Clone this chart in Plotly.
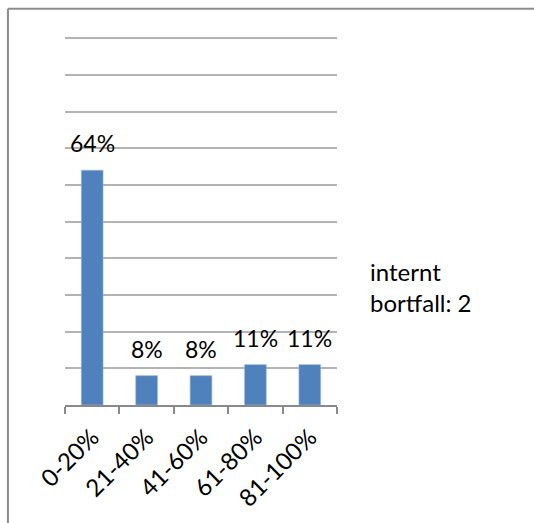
import plotly.graph_objects as go

# Share of respondents per interval
categories = ["0-20%", "21-40%", "41-60%", "61-80%", "81-100%"]
shares = [64, 8, 8, 11, 11]
side_note = "internt<br>bortfall: 2"

W, H = 534, 523
Y_MAX = 100.6
# plot area in pixels
PL, PR, PB = 65, 336.7, 405
UNIT = 3.667  # pixels per percentage point
PT = PB - Y_MAX * UNIT
PW, PH = PR - PL, PB - PT

def px_x(p):
    return (p - PL) / PW

def px_y(p):
    return (PB - p) / PH

FONT = "Lato"
AXIS_GREY = "#898989"
FRAME_GREY = "#8C8C8C"

fig = go.Figure(
    go.Bar(
        x=categories,
        y=shares,
        marker=dict(color="#4F81BD", line=dict(color="#9DB9DD", width=0.6)),
        hoverinfo="skip",
    )
)

for c, v in zip(categories, shares):
    fig.add_annotation(
        x=c, y=v, text=f"{v}%", showarrow=False,
        yanchor="middle", xanchor="center", yshift=27,
        font=dict(family=FONT, size=23, color="black"),
    )

fig.add_annotation(
    xref="paper", yref="paper", x=px_x(368), y=px_y(287),
    text=side_note, showarrow=False, align="left",
    xanchor="left", yanchor="middle",
    font=dict(family=FONT, size=24, color="black"),
)

# outer chart frame: only top and left edges fall inside the page
for x0, y0, x1, y1 in [(8, 8.8, W + 5, 8.8), (8, 8.8, 8, H + 5)]:
    fig.add_shape(
        type="line", xref="paper", yref="paper",
        x0=px_x(x0), y0=px_y(y0), x1=px_x(x1), y1=px_y(y1),
        line=dict(color=FRAME_GREY, width=2), layer="below",
    )

fig.update_layout(
    width=W, height=H,
    margin=dict(l=PL, r=W - PR, t=PT, b=H - PB, pad=0),
    paper_bgcolor="white", plot_bgcolor="white",
    bargap=0.6, showlegend=False,
    font=dict(family=FONT, color="black"),
)

fig.update_yaxes(
    range=[0, Y_MAX], tick0=0, dtick=10, showgrid=True, gridcolor="#B3B3B3",
    gridwidth=1.5, showticklabels=False, zeroline=False, showline=False,
    fixedrange=True,
)
fig.update_xaxes(
    showline=True, linecolor=AXIS_GREY, linewidth=1.5,
    ticks="outside", tickson="boundaries", ticklen=7,
    tickcolor=AXIS_GREY, tickwidth=1.5, tickangle=-45,
    tickfont=dict(family=FONT, size=24, color="black"),
    ticklabelstandoff=7,
    showgrid=False, fixedrange=True,
)

fig.write_html("out.html", config={"displayModeBar": False})
